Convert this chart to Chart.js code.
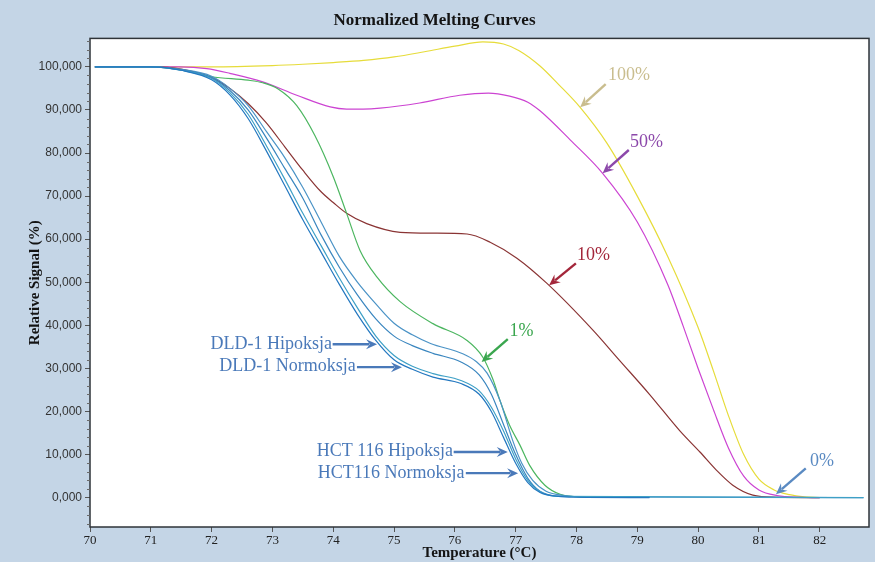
<!DOCTYPE html>
<html>
<head>
<meta charset="utf-8">
<script src="https://cdn.jsdelivr.net/npm/chart.js@4.4.1/dist/chart.umd.min.js"></script>
<style>
  html, body { margin: 0; padding: 0; background: #c4d5e6; }
  #wrap { width: 875px; height: 562px; }
</style>
</head>
<body>
<div id="wrap"><canvas id="chart" width="875" height="562"></canvas></div>
<script>
// ---- Melting curve data (temperature in °C, relative signal in %) ----
const t100 = [70.08, 71, 72, 73, 73.5, 74, 74.5, 75, 75.5, 76, 76.46, 76.8, 77.05, 77.4, 77.7, 78.06, 78.5, 79.0, 79.5, 80.0, 80.25, 80.5, 80.75, 81.0, 81.25, 81.5, 81.75, 82.0];
const v100 = [100, 100, 100, 100.3, 100.6, 101, 101.5, 102.3, 103.5, 104.8, 105.8, 105.3, 103.8, 100.2, 96, 90.6, 82.3, 70, 56, 39.5, 29.5, 19, 10, 4.3, 1.8, 0.7, 0.2, 0.05];

const t50 = [70.08, 71, 71.48, 71.92, 72.3, 72.84, 73.4, 73.95, 74.22, 74.49, 74.77, 75.42, 76.08, 76.55, 76.9, 77.2, 77.4, 77.9, 78.43, 79.0, 79.5, 79.75, 80.0, 80.25, 80.5, 80.75, 81.0, 81.3, 81.7, 82.0];
const v50 = [100, 100, 100, 99.6, 98.5, 96.5, 93.4, 90.7, 90.2, 90.2, 90.4, 91.6, 93.4, 93.9, 93.2, 91.8, 89.8, 83, 75.3, 64, 49.5, 40, 30, 20.5, 11.5, 5, 1.8, 0.5, 0.1, 0];

const t10 = [70.08, 71, 71.5, 72, 72.3, 72.6, 72.9, 73.2, 73.5, 73.8, 74.0, 74.22, 74.55, 75.1, 75.64, 76.2, 76.58, 77.02, 77.51, 78.27, 78.7, 79.2, 79.7, 80.03, 80.3, 80.57, 80.9, 81.3, 82.0];
const v10 = [100, 100, 99.5, 97.5, 95, 91.5, 87, 81.5, 76, 71, 68.5, 66, 63.6, 61.6, 61.4, 61.2, 59.3, 55.6, 49.8, 38.9, 32, 24, 15.5, 10.6, 6.4, 2.9, 0.6, 0.1, 0];

const t1 = [70.08, 71, 71.5, 72, 72.6, 72.84, 73.1, 73.4, 73.7, 74.0, 74.22, 74.44, 74.72, 75.1, 75.64, 76.2, 76.46, 76.63, 76.74, 76.9, 77.07, 77.23, 77.48, 77.73, 78.05, 79.2];
const v1 = [100, 100, 99.3, 97.7, 96.9, 96.3, 94.8, 91, 84, 74.5, 66, 57.4, 51.2, 45.5, 40.4, 36.5, 32.6, 27.3, 22.6, 16.8, 12.2, 7.5, 2.9, 0.8, 0.2, 0.1];

const tDldHip = [70.08, 71, 71.5, 72, 72.3, 72.6, 72.9, 73.2, 73.5, 73.8, 74.1, 74.4, 74.7, 75.0, 75.3, 75.6, 76.13, 76.35, 76.53, 76.74, 76.95, 77.1, 77.28, 77.5, 77.8, 78.2, 82.72];
const vDldHip = [100, 100, 99.4, 97.8, 95, 91, 85, 79, 72, 64, 56, 50, 45, 40.5, 37.8, 35.8, 33.4, 31.6, 28.9, 22.6, 13.3, 8, 4, 1.5, 0.5, 0.2, 0];

const tDldNor = [70.08, 71, 71.5, 72, 72.3, 72.6, 72.9, 73.2, 73.5, 73.8, 74.1, 74.4, 74.7, 75.0, 75.3, 75.64, 76.1, 76.4, 76.6, 76.8, 77.0, 77.2, 77.4, 77.7, 79.2];
const vDldNor = [100, 100, 99.3, 97.5, 94.5, 90, 83.5, 76.5, 69.5, 61, 53.5, 47, 41.5, 37.5, 35.3, 33.5, 31.5, 28.5, 24, 17, 10, 4.5, 1.5, 0.4, 0.1];

const tHctHip = [70.08, 71, 71.5, 72, 72.3, 72.6, 72.9, 73.2, 73.5, 73.8, 74.1, 74.4, 74.7, 75.0, 75.3, 75.64, 76.1, 76.4, 76.6, 76.8, 77.0, 77.2, 77.4, 77.7, 82.72];
const vHctHip = [100, 100, 99.2, 97.3, 94, 89, 81.7, 74, 66, 58.5, 51, 44, 37.5, 33, 30.5, 28.8, 27.2, 24.8, 21, 15.5, 9, 4, 1.4, 0.3, 0];

const tHctNor = [70.08, 71, 71.5, 72, 72.3, 72.6, 72.9, 73.2, 73.5, 73.8, 74.1, 74.4, 74.7, 75.0, 75.3, 75.64, 76.1, 76.4, 76.6, 76.8, 77.0, 77.2, 77.4, 77.7, 78.0, 79.2];
const vHctNor = [100, 100, 99.2, 97.0, 93.5, 88, 80.5, 72.5, 64.5, 57, 49.5, 42.5, 36.5, 32, 29.8, 28, 26.5, 24, 20, 14, 8, 3.5, 1.2, 0.3, 0.1, 0];

// ---- Axis ticks ----
const xTickValues = [70, 71, 72, 73, 74, 75, 76, 77, 78, 79, 80, 81, 82];
const yTickValues = [0, 10, 20, 30, 40, 50, 60, 70, 80, 90, 100];

const pts = (ts, vs) => ts.map((t, i) => ({ x: t, y: vs[i] }));

function series(label, ts, vs, color) {
  return {
    label, data: pts(ts, vs), borderColor: color, backgroundColor: color,
    borderWidth: 1.2, pointRadius: 0, cubicInterpolationMode: 'monotone', fill: false
  };
}

// Annotation callouts, anchored in data units (temperature, signal)
const callouts = [
  { text: '100%', color: '#c9bd8e', at: [78.52, 98.1], align: 'left', from: [78.48, 96.0], to: [78.06, 90.6] },
  { text: '50%', color: '#8c48aa', at: [78.88, 82.6], align: 'left', from: [78.86, 80.7], to: [78.43, 75.3] },
  { text: '10%', color: '#a3263a', at: [78.01, 56.3], align: 'left', from: [77.99, 54.4], to: [77.55, 49.3] },
  { text: '1%', color: '#3aa64e', at: [76.90, 38.6], align: 'left', from: [76.87, 36.8], to: [76.44, 31.5] },
  { text: 'DLD-1 Hipoksja', color: '#4a79b9', at: [73.98, 35.6], align: 'right', from: [73.99, 35.6], to: [74.72, 35.6] },
  { text: 'DLD-1 Normoksja', color: '#4a79b9', at: [74.37, 30.5], align: 'right', from: [74.39, 30.3], to: [75.13, 30.3] },
  { text: 'HCT 116 Hipoksja', color: '#4a79b9', at: [75.97, 10.8], align: 'right', from: [75.98, 10.6], to: [76.87, 10.6] },
  { text: 'HCT116 Normoksja', color: '#4a79b9', at: [76.16, 5.7], align: 'right', from: [76.18, 5.7], to: [77.04, 5.7] },
  { text: '0%', color: '#5a8ac2', at: [81.84, 8.5], align: 'left', from: [81.77, 6.8], to: [81.28, 0.8] }
];

function drawArrow(ctx, x1, y1, x2, y2, color) {
  const a = Math.atan2(y2 - y1, x2 - x1);
  const head = 11, hw = 5;
  const c = Math.cos(a), s = Math.sin(a);
  ctx.strokeStyle = color;
  ctx.lineWidth = 2.4;
  ctx.beginPath();
  ctx.moveTo(x1, y1);
  ctx.lineTo(x2 - head * 0.7 * c, y2 - head * 0.7 * s);
  ctx.stroke();
  ctx.fillStyle = color;
  ctx.beginPath();
  ctx.moveTo(x2, y2);
  ctx.lineTo(x2 - head * c + hw * s, y2 - head * s - hw * c);
  ctx.lineTo(x2 - head * 0.65 * c, y2 - head * 0.65 * s);
  ctx.lineTo(x2 - head * c - hw * s, y2 - head * s + hw * c);
  ctx.closePath();
  ctx.fill();
}

const framePlugin = {
  id: 'frame',
  beforeDraw(chart) {
    const { ctx, chartArea: a } = chart;
    ctx.save();
    ctx.fillStyle = '#c4d5e6';
    ctx.fillRect(0, 0, chart.width, chart.height);
    ctx.fillStyle = '#ffffff';
    ctx.fillRect(a.left, a.top, a.right - a.left, a.bottom - a.top);
    ctx.restore();
  },
  afterDraw(chart) {
    const { ctx, chartArea: a, scales } = chart;
    ctx.save();
    ctx.strokeStyle = '#2e3338';
    ctx.lineWidth = 1.5;
    ctx.strokeRect(a.left, a.top, a.right - a.left, a.bottom - a.top);
    // minor ticks on the signal axis
    ctx.strokeStyle = '#6a6a6a';
    ctx.lineWidth = 1;
    const y = scales.y;
    for (let v = -6; v <= 106; v += 2) {
      if (v % 10 === 0) continue;
      const py = Math.round(y.getPixelForValue(v)) + 0.5;
      ctx.beginPath();
      ctx.moveTo(a.left - 3, py);
      ctx.lineTo(a.left, py);
      ctx.stroke();
    }
    ctx.restore();
  },
  afterDatasetsDraw(chart) {
    const { ctx, scales: { x, y } } = chart;
    ctx.save();
    ctx.font = '18px "Liberation Serif", "Times New Roman", serif';
    ctx.textBaseline = 'middle';
    for (const c of callouts) {
      drawArrow(ctx, x.getPixelForValue(c.from[0]), y.getPixelForValue(c.from[1]),
        x.getPixelForValue(c.to[0]), y.getPixelForValue(c.to[1]), c.color);
      ctx.fillStyle = c.color;
      ctx.textAlign = c.align;
      ctx.fillText(c.text, x.getPixelForValue(c.at[0]), y.getPixelForValue(c.at[1]));
    }
    ctx.restore();
  }
};

new Chart(document.getElementById('chart'), {
  type: 'line',
  data: {
    datasets: [
      series('HCT116 Normoksja', tHctNor, vHctNor, '#2478c0'),
      series('HCT 116 Hipoksja', tHctHip, vHctHip, '#3ea0c6'),
      series('DLD-1 Normoksja', tDldNor, vDldNor, '#3a86bf'),
      series('DLD-1 Hipoksja', tDldHip, vDldHip, '#4b93c6'),
      series('1%', t1, v1, '#4cb660'),
      series('10%', t10, v10, '#8a3434'),
      series('50%', t50, v50, '#cc44d2'),
      series('100%', t100, v100, '#e6dc3a')
    ]
  },
  options: {
    responsive: false,
    devicePixelRatio: 1,
    animation: false,
    layout: { padding: { left: 0, right: 6, top: 0, bottom: 0 } },
    plugins: {
      legend: { display: false },
      tooltip: { enabled: false },
      title: {
        display: true,
        text: 'Normalized Melting Curves',
        color: '#141414',
        font: { family: '"Liberation Serif", serif', size: 17, weight: 'bold' },
        padding: { top: 10, bottom: 8 }
      }
    },
    scales: {
      x: {
        type: 'linear',
        min: 70,
        max: 82.81,
        afterFit(scale) { scale.height = 35; },
        afterBuildTicks(scale) { scale.ticks = xTickValues.map(v => ({ value: v })); },
        grid: { drawOnChartArea: false, drawTicks: true, tickLength: 5, tickColor: '#555' },
        border: { display: false },
        ticks: {
          autoSkip: false, maxRotation: 0, padding: 1, color: '#222',
          font: { family: '"Liberation Serif", serif', size: 13 },
          callback: v => String(v)
        },
        title: {
          display: true,
          text: 'Temperature (°C)',
          color: '#141414',
          font: { family: '"Liberation Serif", serif', size: 15, weight: 'bold' },
          padding: { top: 0, bottom: 0 }
        }
      },
      y: {
        type: 'linear',
        min: -6.8,
        max: 106.6,
        afterFit(scale) { scale.width = 90; },
        afterBuildTicks(scale) { scale.ticks = yTickValues.map(v => ({ value: v })); },
        grid: { drawOnChartArea: false, drawTicks: true, tickLength: 5, tickColor: '#555' },
        border: { display: false },
        ticks: {
          autoSkip: false, padding: 3, color: '#333',
          font: { family: '"Liberation Sans", sans-serif', size: 12 },
          callback: v => Number(v).toFixed(3).replace('.', ',')
        },
        title: {
          display: true,
          text: 'Relative Signal (%)',
          color: '#141414',
          font: { family: '"Liberation Serif", serif', size: 15, weight: 'bold' },
          padding: { top: 26, bottom: 0 }
        }
      }
    }
  },
  plugins: [framePlugin]
});
</script>
</body>
</html>
